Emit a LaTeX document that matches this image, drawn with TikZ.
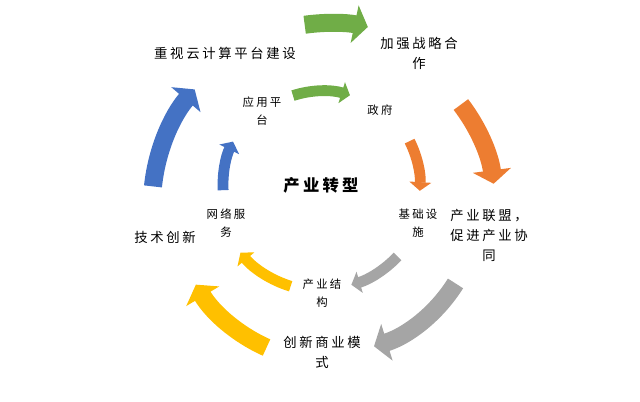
\documentclass[tikz,border=0pt]{standalone}
\usepackage{fontspec}
\usepackage{xcolor}
\usepackage{tikz}
\usetikzlibrary{arrows.meta,positioning,calc}
\newfontfamily\cjk[LetterSpace=20]{Noto Sans CJK SC}
\definecolor{cgreen}{HTML}{70AD47}
\definecolor{corange}{HTML}{ED7D31}
\definecolor{cgray}{HTML}{A5A5A5}
\definecolor{cyellow}{HTML}{FFC000}
\definecolor{cblue}{HTML}{4472C4}

\begin{document}
\begin{tikzpicture}[x = 0.025cm, y = 0.025cm,
  outer/.style = {line width = 0.45cm, -{Triangle[width = 0pt 2.1, length = 0pt 0.75]}},
  inner/.style = {line width = 0.27cm, -{Triangle[width = 0pt 2.0, length = 0pt 0.8]}},
  big/.style = {font = \cjk\fontsize{9.5}{14.2}\selectfont, align = center, inner sep = 0pt},
  small/.style = {font = \cjk\fontsize{8.1}{12.8}\selectfont, align = center, inner sep = 0pt}]
\useasboundingbox (0, 0) rectangle (640, 402);
\coordinate (C) at (330, 197);
\coordinate (Ci) at (322, 217);

\coordinate (go) at ($(C) + (98:182)$);
\coordinate (oo) at ($(C) + (37.5:165)$);
\coordinate (ro) at ($(C) + (-32:148)$);
\coordinate (yo) at ($(C) + (-114:156)$);
\coordinate (bo) at ($(C) + (174:178)$);
\draw[outer, cgreen] (go) arc[start angle = 98, end angle = 78, radius = 182];
\draw[outer, corange] (oo) arc[start angle = 37.5, end angle = 7.4, radius = 165];
\draw[outer, cgray] (ro) arc[start angle = -32, end angle = -72.7, radius = 148];
\draw[outer, cyellow] (yo) arc[start angle = -114, end angle = -149.3, radius = 156];
\draw[outer, cblue] (bo) arc[start angle = 174, end angle = 139.5, radius = 178];

\coordinate (gi) at ($(Ci) + (108:94)$);
\coordinate (oi) at ($(Ci) + (26.6:98)$);
\coordinate (ri) at ($(Ci) + (-43.4:104)$);
\coordinate (yi) at ($(Ci) + (-107.2:106)$);
\coordinate (bi) at ($(Ci) + (183:99)$);
\draw[inner, cgreen] (gi) arc[start angle = 108, end angle = 72.7, radius = 94];
\draw[inner, corange] (oi) arc[start angle = 26.6, end angle = -3.4, radius = 98];
\draw[inner, cgray] (ri) arc[start angle = -43.4, end angle = -73.6, radius = 104];
\draw[inner, cyellow] (yi) arc[start angle = -107.2, end angle = -140.3, radius = 106];
\draw[inner, cblue] (bi) arc[start angle = 183, end angle = 154, radius = 99];

\node[big] (cloud) at (225, 349) {重视云计算平台建设};
\node[big] (strat) at (419, 349) {加强战略合\\作};
\node[big] (union) at (489, 167) {产业联盟，\\促进产业协\\同};
\node[big] (model) at (322, 50) {创新商业模\\式};
\node[big] (tech) at (165, 165) {技术创新};
\node[small] (app) at (262, 291) {应用平\\台};
\node[small] (gov) at (380, 292) {政府};
\node[small] (infra) at (418, 179) {基础设\\施};
\node[small] (struct) at (322, 109) {产业结\\构};
\node[small] (net) at (226, 179) {网络服\\务};
\node[font = \cjk\fontsize{11.6}{14}\selectfont\bfseries, inner sep = 0pt] (core) at (321, 217) {产业转型};

\end{tikzpicture}
\end{document}
